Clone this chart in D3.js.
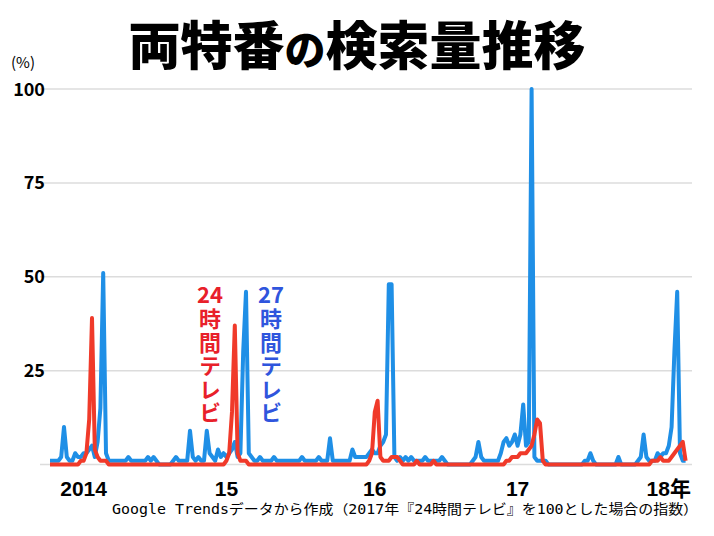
<!DOCTYPE html>
<html>
<head>
<meta charset="utf-8">
<script src="https://cdn.jsdelivr.net/npm/d3@7"></script>
<style>
body{margin:0;background:#fff;}
text{font-family:"Noto Sans CJK JP","Noto Sans",sans-serif;}
</style>
</head>
<body>
<script>
//dims
const width = 714, height = 536;

//data: weekly search index, one value per week
const blue27 = [
 1,1,1,1,2,10,2,1,1,3, 2,2,3,3,4,5,2,6,15,51,
 3,1,1,1,1,1,1,1,2,1, 1,1,1,1,1,2,1,2,1,0,
 0,0,0,0,1,2,1,1,1,1, 9,2,1,2,1,1,9,3,2,1,
 4,2,3,2,3,4,6,2,3,30, 46,3,2,1,1,2,1,1,1,1,
 2,1,1,1,1,1,1,1,1,1, 2,1,1,1,1,1,2,1,1,1,
 7,1,1,1,1,1,1,1,4,2, 2,2,2,2,3,4,3,3,5,6,
 8,48,48,2,1,2,1,2,1,2, 1,1,1,1,2,1,1,1,1,1,
 2,1,0,0,0,0,0,0,0,0, 0,1,2,6,2,1,1,1,1,1,
 1,3,6,7,5,6,8,5,8,16, 5,6,100,2,1,1,1,1,0,0,
 0,0,0,0,0,0,0,0,0,0, 0,1,1,3,1,0,0,0,0,0,
 0,0,0,2,0,0,0,0,0,0, 1,2,8,2,1,1,1,3,2,3,
 3,5,10,30,46,3,1,1
];
const red24 = [
 0,0,0,0,0,0,0,0,0,0, 0,1,1,3,12,39,4,2,1,1,
 1,0,0,0,0,0,0,0,0,0, 0,0,0,0,0,0,0,0,0,0,
 0,0,0,0,0,0,0,0,0,0, 0,0,0,0,0,0,0,0,0,0,
 0,0,0,1,3,14,37,3,1,1, 1,0,0,0,0,0,0,0,0,0,
 0,0,0,0,0,0,0,0,0,0, 0,0,0,0,0,0,0,0,0,0,
 0,0,0,0,0,0,0,0,0,0, 0,0,0,0,1,3,14,17,2,1,
 1,1,2,2,2,1,0,0,0,0, 0,1,0,0,0,0,0,1,0,0,
 0,0,0,0,0,0,0,0,0,0, 0,0,0,0,0,0,0,0,0,0,
 0,0,0,1,1,2,2,2,3,3, 3,4,5,8,12,11,1,0,0,0,
 0,0,0,0,0,0,0,0,0,0, 0,0,0,0,0,0,0,0,0,0,
 0,0,0,0,0,0,0,0,0,0, 0,0,0,0,0,1,1,1,2,1,
 1,1,2,3,4,5,6,1
];
const yTicks = [0, 25, 50, 75, 100];
const xTickWeeks = [12, 63, 116, 167, 221];
const xTickLabels = ['2014', '15', '16', '17', '18年'];
const series = [
  {num: '24', name: '時間テレビ', color: '#e8202a', cx: 210},
  {num: '27', name: '時間テレビ', color: '#2f55dd', cx: 271}
];

const svg = d3.select('body').append('svg')
  .attr('width', width)
  .attr('height', height);

svg.append('rect').attr('width', width).attr('height', height).attr('fill', '#fff');

//scales
const x = d3.scaleLinear().domain([0, blue27.length - 1]).range([50, 685.6]);
const y = d3.scaleLinear().domain([0, 100]).range([464.5, 89]);

//title
const title = svg.append('text')
  .attr('x', 357).attr('y', 65)
  .attr('text-anchor', 'middle')
  .attr('font-size', 52)
  .attr('font-weight', 900)
  .attr('fill', '#000');
title.append('tspan').text('両特番');
title.append('tspan').attr('font-size', 41).text('の');
title.append('tspan').text('検索量推移');

//grid
svg.selectAll('.grid').data(yTicks).enter().append('line')
  .attr('x1', 40).attr('x2', 692)
  .attr('y1', d => y(d)).attr('y2', d => y(d))
  .attr('stroke', '#dcdcdc').attr('stroke-width', 1.5);

//y labels
svg.selectAll('.ylab').data(yTicks.filter(d => d > 0)).enter().append('text')
  .attr('x', 45).attr('y', d => y(d) + 6.5)
  .attr('text-anchor', 'end')
  .attr('font-size', 18).attr('font-weight', 700)
  .text(d => d);
svg.append('text').attr('x', 11).attr('y', 68)
  .attr('font-size', 15).text('(%)');

//x labels
svg.selectAll('.xlab').data(xTickWeeks).enter().append('text')
  .attr('x', d => x(d)).attr('y', 496)
  .attr('text-anchor', 'middle')
  .style('font-family', '"Liberation Sans","Noto Sans CJK JP",sans-serif')
  .attr('font-size', 21).attr('font-weight', 700)
  .text((d, i) => xTickLabels[i]);

//lines
const line = d3.line().x((d, i) => x(i)).y(d => y(d));
svg.append('path').datum(blue27)
  .attr('d', line).attr('fill', 'none')
  .attr('stroke', '#1f8fe6').attr('stroke-width', 4)
  .attr('stroke-linejoin', 'round');
svg.append('path').datum(red24)
  .attr('d', line).attr('fill', 'none')
  .attr('stroke', '#f03a2a').attr('stroke-width', 4)
  .attr('stroke-linejoin', 'round');

//labels: number upright on top, name set vertically below
series.forEach(s => {
  svg.append('text')
    .attr('x', s.cx).attr('y', 303)
    .attr('text-anchor', 'middle')
    .attr('font-size', 22).attr('font-weight', 700)
    .attr('fill', s.color)
    .text(s.num);
  svg.append('text')
    .attr('x', s.cx).attr('y', 308)
    .style('writing-mode', 'vertical-rl')
    .attr('font-size', 22).attr('font-weight', 700)
    .attr('letter-spacing', 1.5)
    .attr('fill', s.color)
    .text(s.name);
});

//footnote
svg.append('text')
  .attr('x', 112).attr('y', 514)
  .style('font-family', '"DejaVu Sans Mono","Noto Sans CJK JP",monospace')
  .attr('font-size', 13.5)
  .attr('textLength', 586).attr('lengthAdjust', 'spacingAndGlyphs')
  .text('Google Trendsデータから作成（2017年『24時間テレビ』を100とした場合の指数）');
</script>
</body>
</html>
